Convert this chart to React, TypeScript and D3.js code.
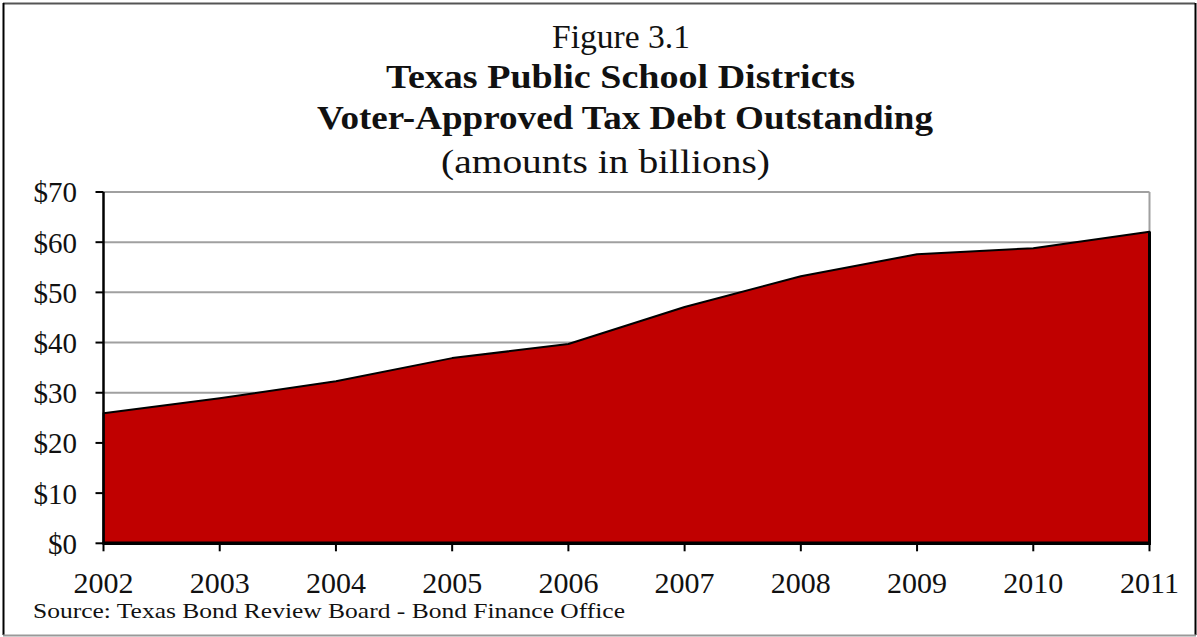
import React from "react";
import * as d3 from "d3";

const years = [2002, 2003, 2004, 2005, 2006, 2007, 2008, 2009, 2010, 2011];
const debt = [25.9, 28.9, 32.3, 36.9, 39.7, 47.1, 53.2, 57.6, 58.8, 62.1];
const yTicks = [0, 10, 20, 30, 40, 50, 60, 70];
const titleLines = [
  "Figure 3.1",
  "Texas Public School Districts",
  "Voter-Approved Tax Debt Outstanding",
  "(amounts in billions)",
];
const sourceText = "Source: Texas Bond Review Board - Bond Finance Office";

const W = 1197;
const H = 637;
const FONT = "'Liberation Serif', 'DejaVu Serif', serif";

export default function App() {
  const left = 103.5;
  const right = 1149.5;
  const top = 192;
  const bottom = 543.3;

  const x = d3.scaleLinear().domain([years[0], years[years.length - 1]]).range([left, right]);
  const y = d3.scaleLinear().domain([0, 70]).range([bottom, top]);

  const data = years.map((yr, i) => ({ yr, v: debt[i] }));
  const area = d3
    .area<{ yr: number; v: number }>()
    .x((d) => x(d.yr))
    .y0(y(0))
    .y1((d) => y(d.v));
  const areaPath = area(data) || "";

  return (
    <svg
      width={W}
      height={H}
      style={{ position: "absolute", left: 0, top: 0, background: "#fff" }}
      fontFamily={FONT}
    >
      <rect x={0} y={0} width={W} height={H} fill="#fff" />
      {/* outer frame */}
      <line x1={3} y1={3.5} x2={1195} y2={3.5} stroke="#555" strokeWidth={2} />
      <line x1={3.5} y1={3} x2={3.5} y2={635} stroke="#000" strokeWidth={2} />
      <line x1={1195.5} y1={3} x2={1195.5} y2={635} stroke="#000" strokeWidth={2} />
      <line x1={3} y1={635.5} x2={1196} y2={635.5} stroke="#999" strokeWidth={2} />

      {/* titles */}
      <text x={621} y={48} textAnchor="middle" fontSize={33} fill="#111" textLength={138} lengthAdjust="spacingAndGlyphs">
        {titleLines[0]}
      </text>
      <text x={620.5} y={88} textAnchor="middle" fontSize={33} fontWeight="bold" fill="#111" textLength={469} lengthAdjust="spacingAndGlyphs">
        {titleLines[1]}
      </text>
      <text x={625} y={129} textAnchor="middle" fontSize={33} fontWeight="bold" fill="#111" textLength={616} lengthAdjust="spacingAndGlyphs">
        {titleLines[2]}
      </text>
      <text x={605.5} y={173} textAnchor="middle" fontSize={33} fill="#111" textLength={329} lengthAdjust="spacingAndGlyphs">
        {titleLines[3]}
      </text>

      {/* gridlines */}
      {yTicks.map((t) => (
        <line key={"g" + t} x1={left} x2={right} y1={y(t)} y2={y(t)} stroke="#a0a0a0" strokeWidth={2} />
      ))}
      {/* plot area right border */}
      <line x1={right} x2={right} y1={top} y2={bottom} stroke="#a0a0a0" strokeWidth={2} />

      {/* area */}
      <path d={areaPath} fill="#C00000" stroke="#000" strokeWidth={2} strokeLinejoin="round" />
      {/* thicker sides/bottom */}
      <line x1={x(years[years.length - 1])} x2={x(years[years.length - 1])} y1={y(debt[debt.length - 1])} y2={bottom} stroke="#000" strokeWidth={3} />
      <line x1={left - 1} x2={right + 1.5} y1={bottom} y2={bottom} stroke="#000" strokeWidth={3.5} />

      {/* y axis */}
      <line x1={left} x2={left} y1={top} y2={bottom} stroke="#000" strokeWidth={2.5} />
      {yTicks.map((t) => (
        <g key={"yt" + t}>
          <line x1={left - 8} x2={left} y1={y(t)} y2={y(t)} stroke="#000" strokeWidth={2} />
          <text x={77} y={y(t)} dy="0.36em" textAnchor="end" fontSize={29} fill="#111">
            {"$" + t}
          </text>
        </g>
      ))}

      {/* x axis ticks and labels */}
      {years.map((yr) => (
        <g key={"xt" + yr}>
          <line x1={x(yr)} x2={x(yr)} y1={bottom} y2={bottom + 8} stroke="#000" strokeWidth={2} />
          <text x={x(yr)} y={593} textAnchor="middle" fontSize={30} fill="#111">
            {String(yr)}
          </text>
        </g>
      ))}

      {/* source */}
      <text x={33} y={618} fontSize={21} fill="#111" textLength={592} lengthAdjust="spacingAndGlyphs">
        {sourceText}
      </text>
    </svg>
  );
}
